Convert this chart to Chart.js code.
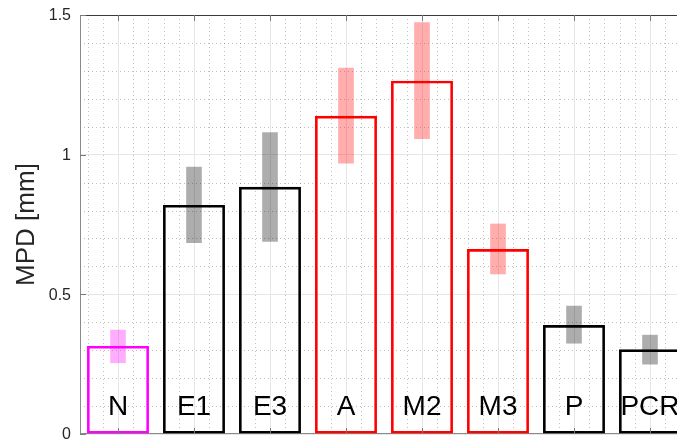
<!DOCTYPE html>
<html><head><meta charset="utf-8">
<script src="https://cdn.jsdelivr.net/npm/chart.js@4/dist/chart.umd.min.js"></script>
<style>
html,body{margin:0;padding:0;overflow:hidden;background:#fff;width:677px;height:441px}
#wrap{position:absolute;left:0;top:0;width:700px;height:441px}
</style>
</head><body><div id="wrap"><canvas id="c" width="700" height="441"></canvas></div>
<script>
const categories = ['N', 'E1', 'E3', 'A', 'M2', 'M3', 'P', 'PCR'];
const meanValues = [0.315, 0.820, 0.885, 1.139, 1.265, 0.662, 0.390, 0.303];
const errLow  = [0.255, 0.685, 0.689, 0.970, 1.057, 0.573, 0.325, 0.250];
const errHigh = [0.372, 0.956, 1.079, 1.310, 1.473, 0.752, 0.458, 0.354];
const edgeColors = ['#ff00ff', '#000000', '#000000', '#ff0000', '#ff0000', '#ff0000', '#000000', '#000000'];
const errColors = ['rgba(255,0,255,0.32)', 'rgba(0,0,0,0.32)', 'rgba(0,0,0,0.32)', 'rgba(255,0,0,0.32)',
                   'rgba(255,0,0,0.32)', 'rgba(255,0,0,0.32)', 'rgba(0,0,0,0.32)', 'rgba(0,0,0,0.32)'];
const yTickValues = [0, 0.5, 1, 1.5];
const yTickLabels = ['0', '0.5', '1', '1.5'];
const yLabel = 'MPD [mm]';

const FONT = '"Liberation Sans", Arial, Helvetica, sans-serif';

const decor = {
  id: 'decor',
  beforeDatasetsDraw(chart) {
    const {ctx, chartArea: a, scales: {x, y}} = chart;
    ctx.save();
    ctx.beginPath();
    ctx.rect(a.left, a.top, a.right - a.left, a.bottom - a.top);
    ctx.clip();
    ctx.strokeStyle = 'rgba(0,0,0,0.25)';
    ctx.lineWidth = 1;
    ctx.setLineDash([1, 3]);
    for (let k = 1; k < 15; k++) {
      if (k % 5 === 0) continue;
      const py = Math.round(y.getPixelForValue(k / 10)) + 0.5;
      ctx.beginPath(); ctx.moveTo(a.left, py); ctx.lineTo(a.right, py); ctx.stroke();
    }
    for (let k = -2; k <= 40; k++) {
      if (k % 5 === 0) continue;
      const v = k * 0.2;
      if (v > categories.length - 0.5) break;
      const px = Math.round(x.getPixelForValue(v)) + 0.5;
      ctx.beginPath(); ctx.moveTo(px, a.top); ctx.lineTo(px, a.bottom); ctx.stroke();
    }
    ctx.restore();
    // bottom axis line (under the bars)
    ctx.save();
    ctx.strokeStyle = '#8a8a8a';
    ctx.lineWidth = 1;
    ctx.beginPath(); ctx.moveTo(a.left, a.bottom - 0.5); ctx.lineTo(a.right, a.bottom - 0.5); ctx.stroke();
    ctx.restore();
  },
  afterDatasetsDraw(chart) {
    const {ctx, chartArea: a, scales: {x, y}} = chart;
    ctx.save();
    ctx.lineWidth = 1;
    ctx.strokeStyle = '#8a8a8a';
    ctx.beginPath(); ctx.moveTo(a.left + 0.5, a.top); ctx.lineTo(a.left + 0.5, a.bottom); ctx.stroke();
    ctx.strokeStyle = '#3a3a3a';
    ctx.beginPath(); ctx.moveTo(a.left, a.top + 0.5); ctx.lineTo(a.right, a.top + 0.5); ctx.stroke();
    ctx.strokeStyle = '#7a7a7a';
    yTickValues.forEach(v => {
      const py = Math.round(y.getPixelForValue(v)) + 0.5;
      ctx.beginPath(); ctx.moveTo(a.left, py); ctx.lineTo(a.left + 6, py); ctx.stroke();
    });
    categories.forEach((c, i) => {
      const px = Math.round(x.getPixelForValue(i)) + 0.5;
      ctx.beginPath(); ctx.moveTo(px, a.top); ctx.lineTo(px, a.top + 6); ctx.stroke();
      ctx.beginPath(); ctx.moveTo(px, a.bottom); ctx.lineTo(px, a.bottom - 6); ctx.stroke();
    });
    // y tick labels
    ctx.fillStyle = '#262626';
    ctx.font = '16px ' + FONT;
    ctx.textAlign = 'right';
    ctx.textBaseline = 'middle';
    yTickValues.forEach((v, i) => {
      ctx.fillText(yTickLabels[i], a.left - 9, y.getPixelForValue(v) + 1);
    });
    // category labels inside bars
    ctx.fillStyle = '#000';
    ctx.font = '28px ' + FONT;
    ctx.textAlign = 'center';
    ctx.textBaseline = 'middle';
    categories.forEach((c, i) => {
      ctx.fillText(c, x.getPixelForValue(i), a.bottom - 27);
    });
    ctx.restore();
  }
};

new Chart(document.getElementById('c'), {
  type: 'bar',
  data: {
    labels: categories,
    datasets: [
      {
        label: 'err',
        data: errLow.map((l, i) => [l, errHigh[i]]),
        backgroundColor: errColors,
        borderWidth: 0,
        barThickness: 15,
        grouped: false
      },
      {
        label: 'mean',
        data: meanValues,
        backgroundColor: 'rgba(0,0,0,0)',
        borderColor: edgeColors,
        borderWidth: 2.6,
        borderSkipped: false,
        barPercentage: 0.815,
        categoryPercentage: 1,
        grouped: false
      }
    ]
  },
  options: {
    responsive: false,
    animation: false,
    devicePixelRatio: 1,
    layout: {padding: {left: 0, top: 15, right: 12, bottom: 0}},
    plugins: {legend: {display: false}, tooltip: {enabled: false}},
    scales: {
      x: {
        type: 'category',
        offset: true,
        grid: {display: true, offset: false, color: '#e6e6e6', drawTicks: false},
        border: {display: false},
        ticks: {display: false},
        afterFit(s) { s.height = 7; }
      },
      y: {
        min: 0, max: 1.5,
        grid: {color: '#e6e6e6', drawTicks: false},
        border: {display: false},
        afterBuildTicks(s) { s.ticks = yTickValues.map(v => ({value: v})); },
        ticks: {display: false},
        title: {
          display: true, text: yLabel, color: '#262626',
          font: {family: FONT, size: 26},
          padding: {top: 11, bottom: 0}
        },
        afterFit(s) { s.width = 80; }
      }
    }
  },
  plugins: [decor]
});
</script>
</body></html>
